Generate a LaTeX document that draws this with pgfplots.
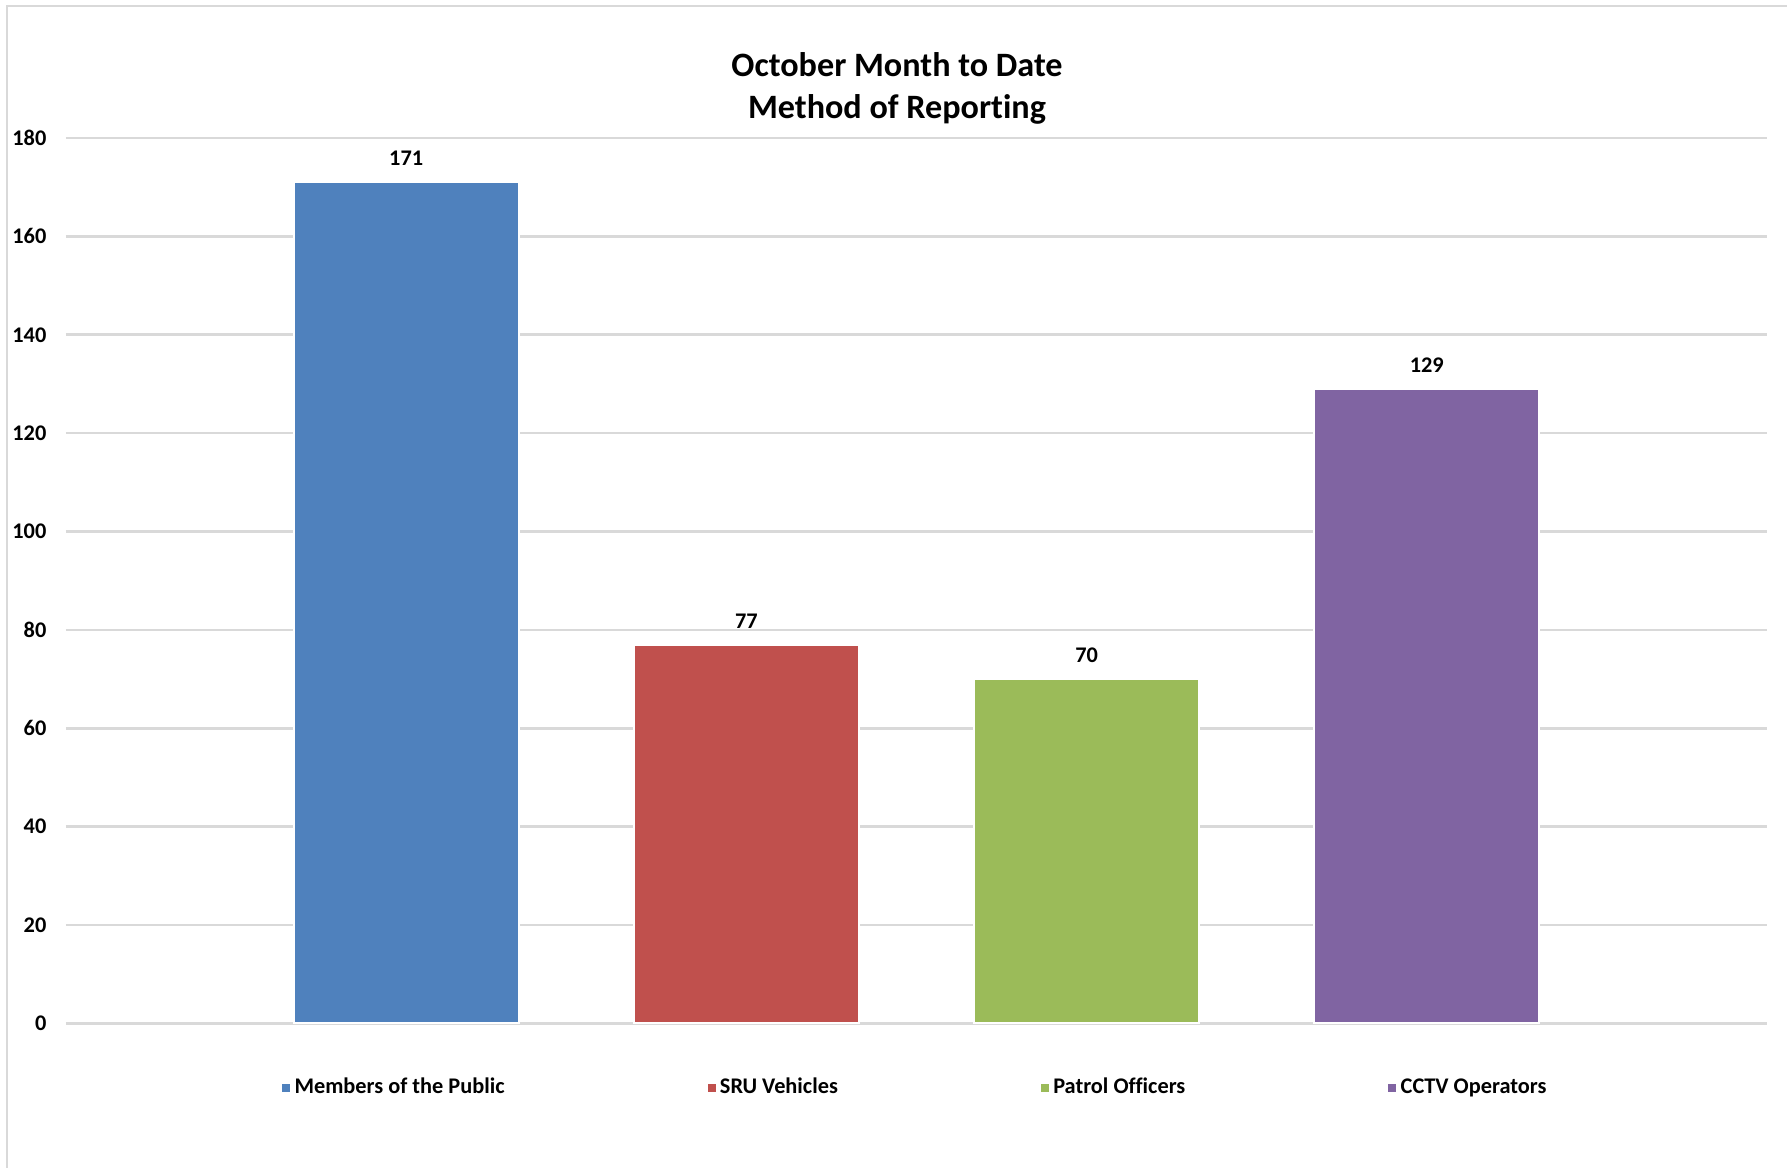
\documentclass[border=0pt]{standalone}
\usepackage{pgfplots}
\pgfplotsset{compat=1.18}
\usepackage{fontspec}
\setmainfont{Carlito}[Ligatures={NoCommon}]
\definecolor{cBlue}{HTML}{4F81BD}
\definecolor{cRed}{HTML}{C0504D}
\definecolor{cGreen}{HTML}{9BBB59}
\definecolor{cPurple}{HTML}{8064A2}
\definecolor{cGrid}{HTML}{D9D9D9}
\begin{document}
\begin{tikzpicture}
\path[use as bounding box] (0,0) rectangle (536.1pt,350.4pt);
\draw[cGrid, line width=0.7pt] (2.1pt,0) -- (2.1pt,348.6pt) -- (536.1pt,348.6pt);
\node[font=\bfseries\fontsize{10.25}{12.5}\selectfont, align=center] at (269.1pt,323.9pt) {October Month to Date\\Method of Reporting};
\begin{axis}[
  at={(19.8pt,43.35pt)}, anchor=south west,
  scale only axis, width=510.3pt, height=265.65pt,
  xmin=-1, xmax=4, ymin=0, ymax=180,
  ytick={0,20,...,180},
  xtick=\empty,
  axis line style={draw=none},
  major tick length=0pt,
  ymajorgrids, grid style={cGrid, line width=0.8pt},
  ybar, bar shift=0pt, bar width=67.5pt,
  yticklabel style={font=\bfseries\fontsize{6.7}{8}\selectfont, inner sep=0pt, xshift=-5.7pt},
  /pgf/number format/assume math mode=true,
  nodes near coords,
  every node near coord/.append style={font=\bfseries\fontsize{6.7}{8}\selectfont, black, inner sep=0pt, anchor=south, yshift=4.7pt},
  legend columns=4,
  legend style={at={(0.5,-0.0732)}, anchor=center, draw=none, fill=none,
    font=\bfseries\fontsize{6.7}{8}\selectfont,
    /tikz/every even column/.append style={column sep=59.6pt},
    nodes={inner sep=0pt, inner xsep=1.3pt}},
  legend image code/.code={\fill[#1, draw=none] (0pt,-1.2pt) rectangle (2.4pt,1.2pt);},
]
\addplot[fill=cBlue, draw=white, line width=0.6pt] coordinates {(0,171)};
\addlegendentry{Members of the Public}
\addplot[fill=cRed, draw=white, line width=0.6pt] coordinates {(1,77)};
\addlegendentry{SRU Vehicles}
\addplot[fill=cGreen, draw=white, line width=0.6pt] coordinates {(2,70)};
\addlegendentry{Patrol Officers}
\addplot[fill=cPurple, draw=white, line width=0.6pt] coordinates {(3,129)};
\addlegendentry{CCTV Operators}
\end{axis}
\end{tikzpicture}
\end{document}
